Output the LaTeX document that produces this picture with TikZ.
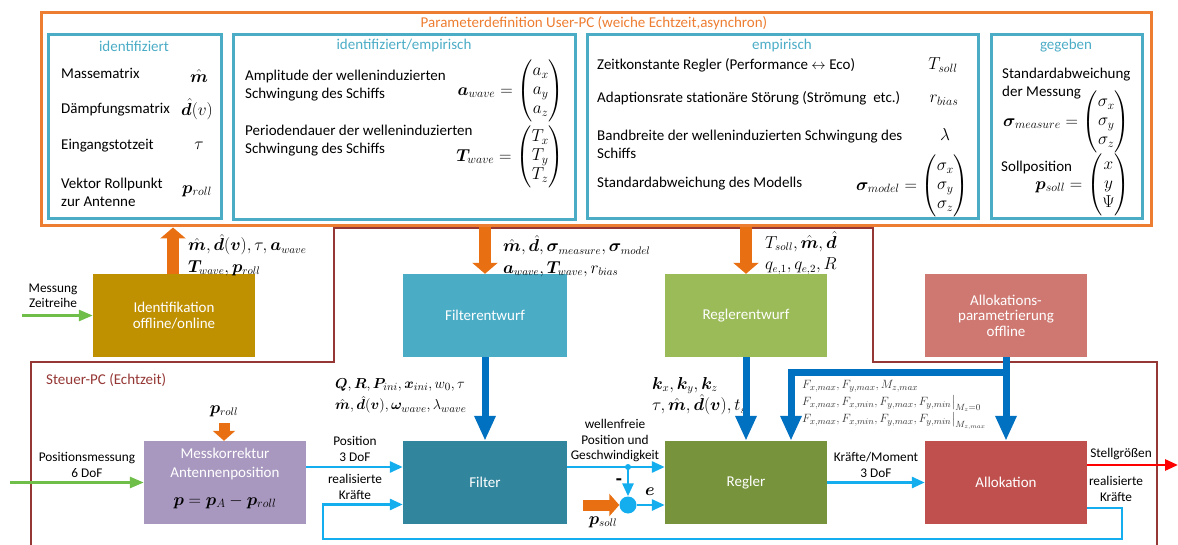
\documentclass[tikz,border=0pt]{standalone}
\usepackage{amsmath,bm}
\usepackage{fontspec}
\setmainfont{Carlito}
\usetikzlibrary{arrows.meta,calc}

\definecolor{orng}{HTML}{ED7D31}
\definecolor{orarrow}{HTML}{E97012}
\definecolor{aqua}{HTML}{4BACC6}
\definecolor{brn}{HTML}{953735}
\definecolor{identc}{HTML}{BF9000}
\definecolor{fentwc}{HTML}{4BACC6}
\definecolor{rentwc}{HTML}{9BBB59}
\definecolor{aentwc}{HTML}{CF7871}
\definecolor{messkc}{HTML}{A898BF}
\definecolor{filterc}{HTML}{31859C}
\definecolor{reglerc}{HTML}{77933C}
\definecolor{allokc}{HTML}{C0504D}
\definecolor{lcyan}{HTML}{14AEEF}
\definecolor{dblue}{HTML}{0070C0}
\definecolor{grn}{HTML}{6FBE4A}

\tikzset{
  txt/.style={font=\fontsize{15}{18}\selectfont, inner sep=0pt},
  lbl/.style={font=\fontsize{13.3}{15.5}\selectfont, inner sep=0pt, align=center},
  block/.style={minimum width=162pt, minimum height=83pt, inner sep=0pt,
    text=white, align=center, font=\fontsize{15}{15.5}\selectfont},
  hdr/.style={text=aqua, font=\fontsize{15}{18}\selectfont, inner sep=0pt},
  pbox/.style={draw=aqua, line width=3pt, inner sep=0pt},
  mth/.style={font=\fontsize{16}{21.5}\selectfont, inner sep=0pt},
  mbig/.style={font=\fontsize{18}{20}\selectfont, inner sep=0pt},
  mvec/.style={font=\fontsize{16.5}{19}\selectfont, inner sep=0pt},
  oarrow/.style={draw=orarrow, line width=12pt, -{Triangle[width=25pt,length=11pt]}},
  osmall/.style={draw=orarrow, line width=11pt, -{Triangle[width=22pt,length=10pt]}},
  barrow/.style={draw=dblue, line width=7pt, -{Triangle[width=20pt,length=25pt]}},
  carrow/.style={draw=lcyan, line width=2.8pt, -{Triangle[width=11pt,length=13pt]}},
  garrow/.style={draw=grn, line width=2.8pt, -{Triangle[width=11pt,length=14pt]}},
  rarrow/.style={draw=red, line width=2.8pt, -{Triangle[width=11pt,length=13pt]}},
}

\begin{document}
\begin{tikzpicture}[x=1pt,y=-1pt]
\useasboundingbox (0,0) rectangle (1178,545);

% real-time control PC region
\draw[brn, line width=2.6pt]
  (31,548) -- (31,362) -- (334,362) -- (334,228) -- (873,228)
  -- (873,362) -- (1157,362) -- (1157,548);
\node[txt, text=brn, anchor=west] at (46,380) {Steuer-PC (Echtzeit)};

% parameter definition PC
\node[draw=orng, line width=3pt, minimum width=1110pt, minimum height=213pt, inner sep=0pt]
  (upc) at (596,119.5) {};
\node[txt, text=orng] at (594,23) {Parameterdefinition User-PC (weiche Echtzeit,asynchron)};

\node[pbox, minimum width=173pt, minimum height=184pt] (p1) at (134.5,127) {};
\node[pbox, minimum width=342pt, minimum height=185pt] (p2) at (404,127.5) {};
\node[pbox, minimum width=391pt, minimum height=184pt] (p3) at (782.5,127) {};
\node[pbox, minimum width=151pt, minimum height=184pt] (p4) at (1066.5,127) {};

% identifiziert
\node[hdr] at (134,46) {identifiziert};
\node[txt, anchor=west] at (61,73) {Massematrix};
\node[mbig] at (199,76) {$\hat{\bm m}$};
\node[txt, anchor=west] at (61,110) {Dämpfungsmatrix};
\node[mbig] at (197,109) {$\hat{\bm d}(v)$};
\node[txt, anchor=west] at (61,146) {Eingangstotzeit};
\node[mbig] at (199,146) {$\tau$};
\node[txt, anchor=west, align=left] at (61,192) {Vektor Rollpunkt\\zur Antenne};
\node[mbig] at (197,191) {$\bm p_{roll}$};

% identifiziert/empirisch
\node[hdr] at (404,46) {identifiziert/empirisch};
\node[txt, anchor=west, align=left] at (245,86) {Amplitude der welleninduzierten\\Schwingung des Schiffs};
\node[mvec, anchor=east] at (564,91) {$\bm a_{wave}=\begin{pmatrix}a_x\\a_y\\a_z\end{pmatrix}$};
\node[txt, anchor=west, align=left] at (245,141) {Periodendauer der welleninduzierten\\Schwingung des Schiffs};
\node[mvec, anchor=east] at (564,157) {$\bm T_{wave}=\begin{pmatrix}T_x\\T_y\\T_z\end{pmatrix}$};

% empirisch
\node[hdr] at (782,46) {empirisch};
\node[txt, anchor=west] at (597,65) {Zeitkonstante Regler (Performance $\leftrightarrow$ Eco)};
\node[mbig] at (943,65) {$T_{soll}$};
\node[txt, anchor=west] at (597,98) {Adaptionsrate stationäre Störung (Strömung\ \ etc.)};
\node[mbig] at (944,100) {$r_{bias}$};
\node[txt, anchor=west, align=left] at (597,144) {Bandbreite der welleninduzierten Schwingung des\\Schiffs};
\node[mbig] at (945,135) {$\lambda$};
\node[txt, anchor=west] at (597,184) {Standardabweichung des Modells};
\node[mvec, anchor=east] at (969,186) {$\bm\sigma_{model}=\begin{pmatrix}\sigma_x\\\sigma_y\\\sigma_z\end{pmatrix}$};

% gegeben
\node[hdr] at (1066,46) {gegeben};
\node[txt, anchor=west, align=left] at (1002,84) {Standardabweichung\\der Messung};
\node[mvec, anchor=east] at (1130,122) {$\bm\sigma_{measure}=\begin{pmatrix}\sigma_x\\\sigma_y\\\sigma_z\end{pmatrix}$};
\node[txt, anchor=west] at (1001,168) {Sollposition};
\node[mvec, anchor=east] at (1130,185) {$\bm p_{soll}=\begin{pmatrix}x\\y\\\Psi\end{pmatrix}$};

% design blocks
\node[block, fill=identc] (ident) at (174,315.5) {Identifikation\\offline/online};
\node[block, fill=fentwc, minimum width=164pt] (fentw) at (485,315.5) {Filterentwurf};
\node[block, fill=rentwc] (rentw) at (746,315.5) {Reglerentwurf};
\node[block, fill=aentwc] (aentw) at (1006,315.5) {Allokations-\\parametrierung\\offline};

% real-time blocks
\node[block, fill=messkc] (messk) at (225,482.5) {};
\node[text=white, font=\fontsize{15}{19}\selectfont, align=center, inner sep=0pt] at (225,463.5) {Messkorrektur\\Antennenposition};
\node[font=\fontsize{18}{20}\selectfont, inner sep=0pt] at (225,502) {$\bm p=\bm p_A-\bm p_{roll}$};
\node[block, fill=filterc, minimum width=164pt] (filter) at (485,482.5) {Filter};
\node[block, fill=reglerc] (regler) at (746,482.5) {Regler};
\node[block, fill=allokc] (allok) at (1006,482.5) {Allokation};

% parameter labels
\node[mth, anchor=west, align=left] at (188,255) {$\hat{\bm m},\hat{\bm d}(\bm v),\tau,\bm a_{wave}$\\$\bm T_{wave},\bm p_{roll}$};
\node[mth, anchor=west, align=left] at (503,256) {$\hat{\bm m},\hat{\bm d},\bm\sigma_{measure},\bm\sigma_{model}$\\$\bm a_{wave},\bm T_{wave},r_{bias}$};
\node[mth, anchor=west, align=left] at (765,253) {$T_{soll},\hat{\bm m},\hat{\bm d}$\\$q_{e,1},q_{e,2},R$};
\node[mth, font=\fontsize{15.3}{21.5}\selectfont, anchor=west, align=left] at (335,396) {$\bm Q,\bm R,\bm P_{ini},\bm x_{ini},w_0,\tau$\\$\hat{\bm m},\hat{\bm d}(\bm v),\bm\omega_{wave},\lambda_{wave}$};
\node[mth, anchor=west, align=left] at (652,396) {$\bm k_x,\bm k_y,\bm k_z$\\$\tau,\hat{\bm m},\hat{\bm d}(\bm v),t_s$};
\node[font=\fontsize{12.5}{17}\selectfont, text=black!80, anchor=west, align=left, inner sep=0pt] at (802,405)
  {$F_{x,max},F_{y,max},M_{z,max}$\\$F_{x,max},F_{x,min},F_{y,max},F_{y,min}\big|_{M_z=0}$\\$F_{x,max},F_{x,min},F_{y,max},F_{y,min}\big|_{M_{z,max}}$};

% signal labels
\node[lbl] at (53,296) {Messung\\Zeitreihe};
\node[lbl] at (87,465) {Positionsmessung\\6 DoF};
\node[lbl] at (355,449) {Position\\3 DoF};
\node[lbl] at (355,487) {realisierte\\Kräfte};
\node[lbl] at (615,441) {wellenfreie\\Position und\\Geschwindigkeit};
\node[lbl] at (876,465) {Kräfte/Moment\\3 DoF};
\node[lbl] at (1121,454) {Stellgrößen};
\node[lbl] at (1116,489) {realisierte\\Kräfte};
\node[mth] at (224,411) {$\bm p_{roll}$};
\node[mth] at (603,522) {$\bm p_{soll}$};
\node[mth] at (650,492) {$\bm e$};
\node[font=\fontsize{20}{20}\selectfont\bfseries, inner sep=0pt] at (619,482) {-};

% parameter flow arrows
\draw[oarrow] (ident.north -| 173,0) -- (upc.south -| 173,0);
\draw[oarrow] (upc.south -| fentw.north) -- (fentw.north);
\draw[oarrow] (upc.south -| rentw.north) -- (rentw.north);
\draw[barrow] (fentw.south) -- (filter.north);
\draw[barrow] (rentw.south) -- (regler.north);
\draw[barrow] (aentw.south) -- (allok.north);
\draw[barrow] ($(aentw.south)+(0,15)$) -| ($(regler.north)+(45,0)$);

% measurement inputs
\coordinate (min) at (22,315.5);
\coordinate (pin) at (10,482.5);
\draw[garrow] (min) -- (ident.west);
\draw[garrow] (pin) -- (messk.west);
\coordinate (proll) at (224,423);
\draw[osmall] (proll) -- (proll |- messk.north);

% signal flow
\draw[carrow] ($(messk.east)+(0,-15.5)$) -- ($(filter.west)+(0,-15.5)$);
\draw[carrow] ($(filter.east)+(0,-15.5)$) -- ($(regler.west)+(0,-15.5)$);
\node[circle, fill=lcyan, minimum size=17pt, inner sep=0pt] (sum) at (628,505) {};
\coordinate (jn) at (628,467);
\fill[lcyan] (jn) circle (3pt);
\draw[carrow] (jn) -- (sum.north);
\draw[carrow] (sum.east) -- (regler.west |- sum);
\coordinate (psoll) at (583,505);
\draw[osmall] (psoll) -- (sum.west);
\draw[carrow] (regler.east) -- (allok.west);
\coordinate (out) at (1178,465);
\draw[rarrow] (allok.east |- out) -- (out);
\coordinate (fb) at ($(allok.east)+(0,25.5)$);
\draw[carrow] (fb) -- (1122,508) -- (1122,539) -- (323,539) -- (323,504.5) -- ($(filter.west)+(0,22)$);

\end{tikzpicture}
\end{document}
